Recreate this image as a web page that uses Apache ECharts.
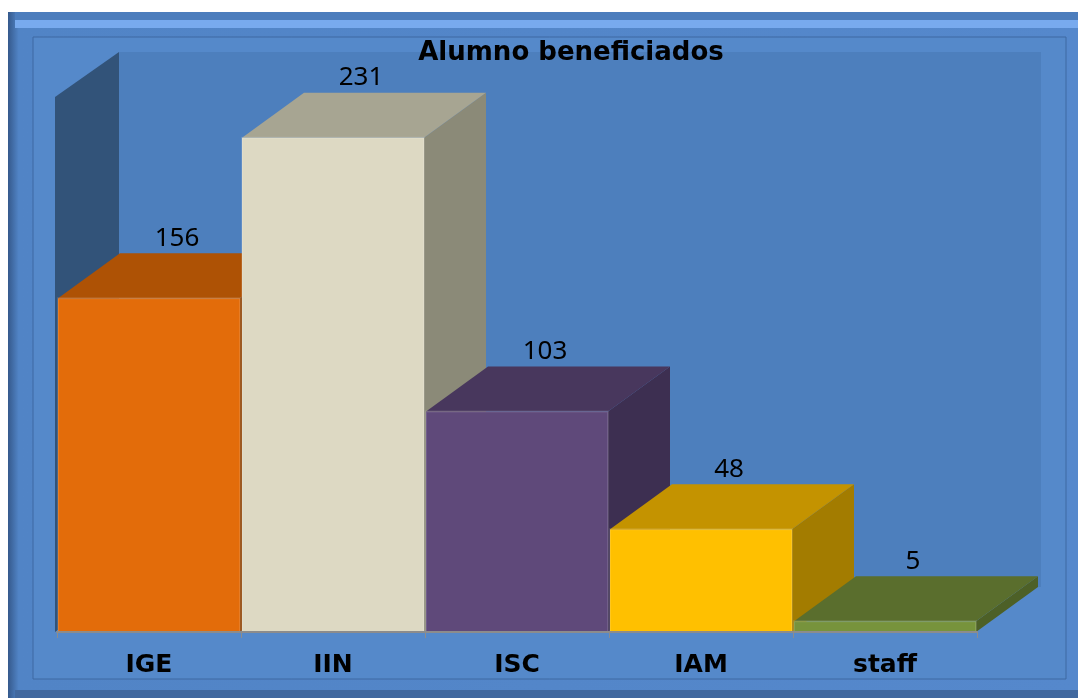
<!DOCTYPE html>
<html>
<head>
<meta charset="utf-8">
<script src="https://cdn.jsdelivr.net/npm/echarts@6/dist/echarts.min.js"></script>
<style>
  html, body { margin: 0; padding: 0; background: #fff; }
  #chart { width: 1078px; height: 698px; }
</style>
</head>
<body>
<div id="chart"></div>
<script>
let categories = ["IGE", "IIN", "ISC", "IAM", "staff"];
let beneficiados = [156, 231, 103, 48, 5];
let yMax = 250;

// front / top / side shades for every bar
let frontColors = ["#e36c0a", "#ddd9c3", "#5f497a", "#ffc000", "#77933c"];
let topColors = ["#ae5205", "#a7a592", "#48375d", "#c49300", "#5a6e2d"];
let sideColors = ["#8f4404", "#8b8a78", "#3d2f51", "#a37c00", "#4d6027"];

let depthX = 62;
let depthY = -45;
let boldFont = "'DejaVu Sans', sans-serif";
let labelFont = "'Noto Sans', sans-serif";

function renderWall(params, api) {
    let cs = params.coordSys;
    return {
        type: "group",
        children: [
            {
                type: "rect",
                shape: {x: cs.x + depthX, y: cs.y + depthY, width: cs.width + 2, height: cs.height},
                style: {fill: "#4d7fbd"}
            },
            {
                type: "polygon",
                shape: {points: [
                    [cs.x - 2, cs.y],
                    [cs.x + depthX, cs.y + depthY],
                    [cs.x + depthX, cs.y + cs.height + depthY],
                    [cs.x - 2, cs.y + cs.height]
                ]},
                style: {fill: "#325379"}
            }
        ]
    };
}

function renderBar(params, api) {
    let idx = api.value(0);
    let val = api.value(1);
    let base = api.coord([idx, 0]);
    let top = api.coord([idx, val]);
    let bw = api.size([1, 0])[0];
    let x0 = base[0] - bw / 2 + 1;
    let x1 = base[0] + bw / 2 - 1;
    let yb = base[1];
    let yt = top[1];

    return {
        type: "group",
        children: [
            {
                type: "polygon",
                shape: {points: [[x1, yt], [x1 + depthX, yt + depthY], [x1 + depthX, yb + depthY], [x1, yb]]},
                style: {fill: sideColors[idx]}
            },
            {
                type: "polygon",
                shape: {points: [[x0, yt], [x0 + depthX, yt + depthY], [x1 + depthX, yt + depthY], [x1, yt]]},
                style: {fill: topColors[idx]}
            },
            {
                type: "rect",
                shape: {x: x0, y: yt, width: x1 - x0, height: yb - yt},
                style: {fill: frontColors[idx], stroke: "rgba(255,255,255,0.12)", lineWidth: 2}
            },
            {
                type: "text",
                x: base[0] + 28,
                y: yt + depthY - 15,
                style: {
                    text: String(val),
                    fill: "#000",
                    font: "26px " + labelFont,
                    align: "center",
                    verticalAlign: "middle"
                }
            }
        ]
    };
}

let chart = echarts.init(document.getElementById("chart"));

let option = {
    animation: false,
    backgroundColor: "#ffffff",
    title: {
        text: "Alumno beneficiados",
        left: 566,
        top: 35,
        textAlign: "center",
        textStyle: {fontFamily: boldFont, fontSize: 26, fontWeight: "bold", color: "#000"}
    },
    graphic: [
        {
            type: "rect", z: -10,
            shape: {x: 8, y: 12, width: 1070, height: 686},
            style: {
                fill: {type: "linear", x: 0, y: 0, x2: 1, y2: 0, colorStops: [
                    {offset: 0, color: "#35598c"}, {offset: 0.01, color: "#5184c6"},
                    {offset: 1, color: "#5588cc"}
                ]}
            }
        },
        {
            type: "rect", z: -9,
            shape: {x: 15, y: 12, width: 1063, height: 8},
            style: {fill: "#4c7dbd"}
        },
        {
            type: "rect", z: -9,
            shape: {x: 15, y: 20, width: 1063, height: 8},
            style: {fill: "#78aaee"}
        },
        {
            type: "rect", z: -9,
            shape: {x: 15, y: 690, width: 1063, height: 8},
            style: {fill: "#42699f"}
        },
        {
            type: "rect", z: -8,
            shape: {x: 33, y: 37, width: 1033, height: 642},
            style: {fill: "#5589ca", stroke: "#3f69a2", lineWidth: 1}
        }
    ],
    grid: {left: 57, right: 101, top: 97, bottom: 66},
    xAxis: {
        type: "category",
        data: categories,
        z: 5,
        axisLine: {lineStyle: {color: "#8c8c8c", width: 2}},
        axisTick: {show: true, length: 6, interval: 0, lineStyle: {color: "#8c8c8c"}},
        axisLabel: {
            color: "#000",
            fontFamily: boldFont,
            fontSize: 25,
            fontWeight: "bold",
            margin: 21
        }
    },
    yAxis: {
        type: "value",
        min: 0,
        max: yMax,
        show: false
    },
    series: [
        {
            type: "custom",
            z: 1,
            renderItem: renderWall,
            data: [[0, 0]],
            silent: true
        },
        {
            type: "custom",
            z: 3,
            renderItem: renderBar,
            data: beneficiados.map((v, i) => [i, v])
        }
    ]
};

chart.setOption(option);
</script>
</body>
</html>
